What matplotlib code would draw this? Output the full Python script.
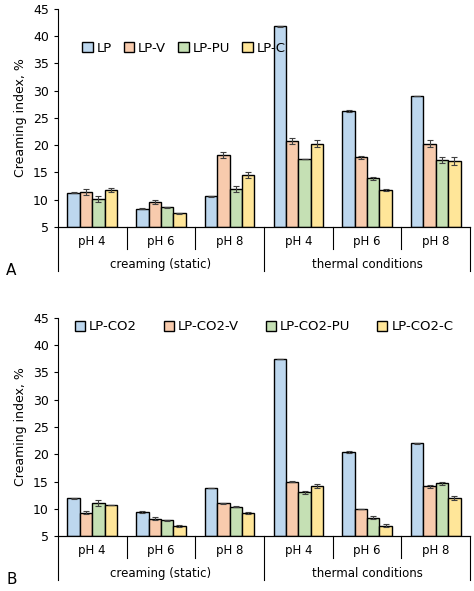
import matplotlib.pyplot as plt
import numpy as np

ph_labels = ["pH 4", "pH 6", "pH 8", "pH 4", "pH 6", "pH 8"]
group_labels = ["creaming (static)", "thermal conditions"]
colors = ["#bdd7ee", "#f8cbad", "#c5e0b4", "#ffe699"]

namesA = ["LP", "LP-V", "LP-PU", "LP-C"]
A_LP = [11.3, 8.3, 10.6, 41.8, 26.3, 29.0]
A_V = [11.4, 9.6, 18.2, 20.8, 17.8, 20.3]
A_PU = [10.1, 8.6, 11.9, 17.5, 13.9, 17.3]
A_C = [11.8, 7.5, 14.5, 20.3, 11.8, 17.1]
A_LP_err = [0.05, 0.1, 0.05, 0.1, 0.15, 0.05]
A_V_err = [0.5, 0.35, 0.5, 0.5, 0.3, 0.7]
A_PU_err = [0.5, 0.1, 0.55, 0.05, 0.3, 0.6]
A_C_err = [0.4, 0.1, 0.5, 0.6, 0.15, 0.7]

namesB = ["LP-CO2", "LP-CO2-V", "LP-CO2-PU", "LP-CO2-C"]
B_LP = [11.9, 9.4, 13.8, 37.5, 20.4, 22.0]
B_V = [9.3, 8.2, 11.0, 15.0, 10.0, 14.1]
B_PU = [11.0, 7.9, 10.4, 13.0, 8.4, 14.7]
B_C = [10.7, 6.8, 9.2, 14.2, 6.9, 12.0]
B_LP_err = [0.1, 0.15, 0.05, 0.05, 0.15, 0.1]
B_V_err = [0.25, 0.3, 0.05, 0.15, 0.05, 0.3]
B_PU_err = [0.55, 0.1, 0.05, 0.2, 0.3, 0.3]
B_C_err = [0.05, 0.2, 0.15, 0.3, 0.25, 0.35]

fig = plt.figure(figsize=(4.74, 5.91), dpi=100)

def panel(rect, series, errs, names, letter, leg_kw):
    ax = fig.add_axes(rect)
    x = np.arange(6)
    w = 0.18
    for i, (s, e, n) in enumerate(zip(series, errs, names)):
        ax.bar(x + (i - 1.5) * w, np.array(s) - 5, w, bottom=5, color=colors[i],
               edgecolor="black", linewidth=1.0, label=n,
               yerr=e, error_kw=dict(ecolor="#404040", capsize=2.5, elinewidth=0.8, capthick=0.8))
    ax.set_xlim(-0.5, 5.5)
    ax.set_ylim(5, 45)
    ax.set_yticks(range(5, 46, 5))
    ax.tick_params(axis="y", labelsize=9, length=3)
    ax.set_xticks([])
    ax.spines["top"].set_visible(False)
    ax.spines["right"].set_visible(False)
    ax.set_ylabel("Creaming index, %", fontsize=9)
    t = ax.transAxes
    for k, lab in enumerate(ph_labels):
        ax.text((k + 0.5) / 6, -0.068, lab, transform=t, ha="center", va="center", fontsize=8.5)
    for k in range(1, 6):
        bot = -0.2 if k == 3 else -0.1
        ax.plot([k / 6, k / 6], [0, bot], transform=t, color="black", lw=0.8, clip_on=False)
    ax.plot([0, 0], [0, -0.2], transform=t, color="black", lw=0.8, clip_on=False)
    ax.plot([1, 1], [0, -0.2], transform=t, color="black", lw=0.8, clip_on=False)
    ax.plot([0, 1], [0, 0], transform=t, color="black", lw=0.8, clip_on=False)
    ax.text(0.25, -0.17, group_labels[0], transform=t, ha="center", va="center", fontsize=8.5)
    ax.text(0.75, -0.17, group_labels[1], transform=t, ha="center", va="center", fontsize=8.5)
    ax.text(-0.125, -0.2, letter, transform=t, ha="left", va="center", fontsize=11)
    ax.legend(frameon=False, handlelength=0.8, handleheight=0.8, handletextpad=0.3,
              fontsize=9.5, ncol=4, **leg_kw)
    return ax

panel([0.122, 0.616, 0.870, 0.369], [A_LP, A_V, A_PU, A_C],
      [A_LP_err, A_V_err, A_PU_err, A_C_err], namesA, "A",
      dict(loc="center left", bbox_to_anchor=(0.03, 0.82), columnspacing=0.9))
panel([0.122, 0.093, 0.870, 0.369], [B_LP, B_V, B_PU, B_C],
      [B_LP_err, B_V_err, B_PU_err, B_C_err], namesB, "B",
      dict(loc="center", bbox_to_anchor=(0.5, 0.96), columnspacing=2.0))

fig.savefig("out.png", dpi=100)
